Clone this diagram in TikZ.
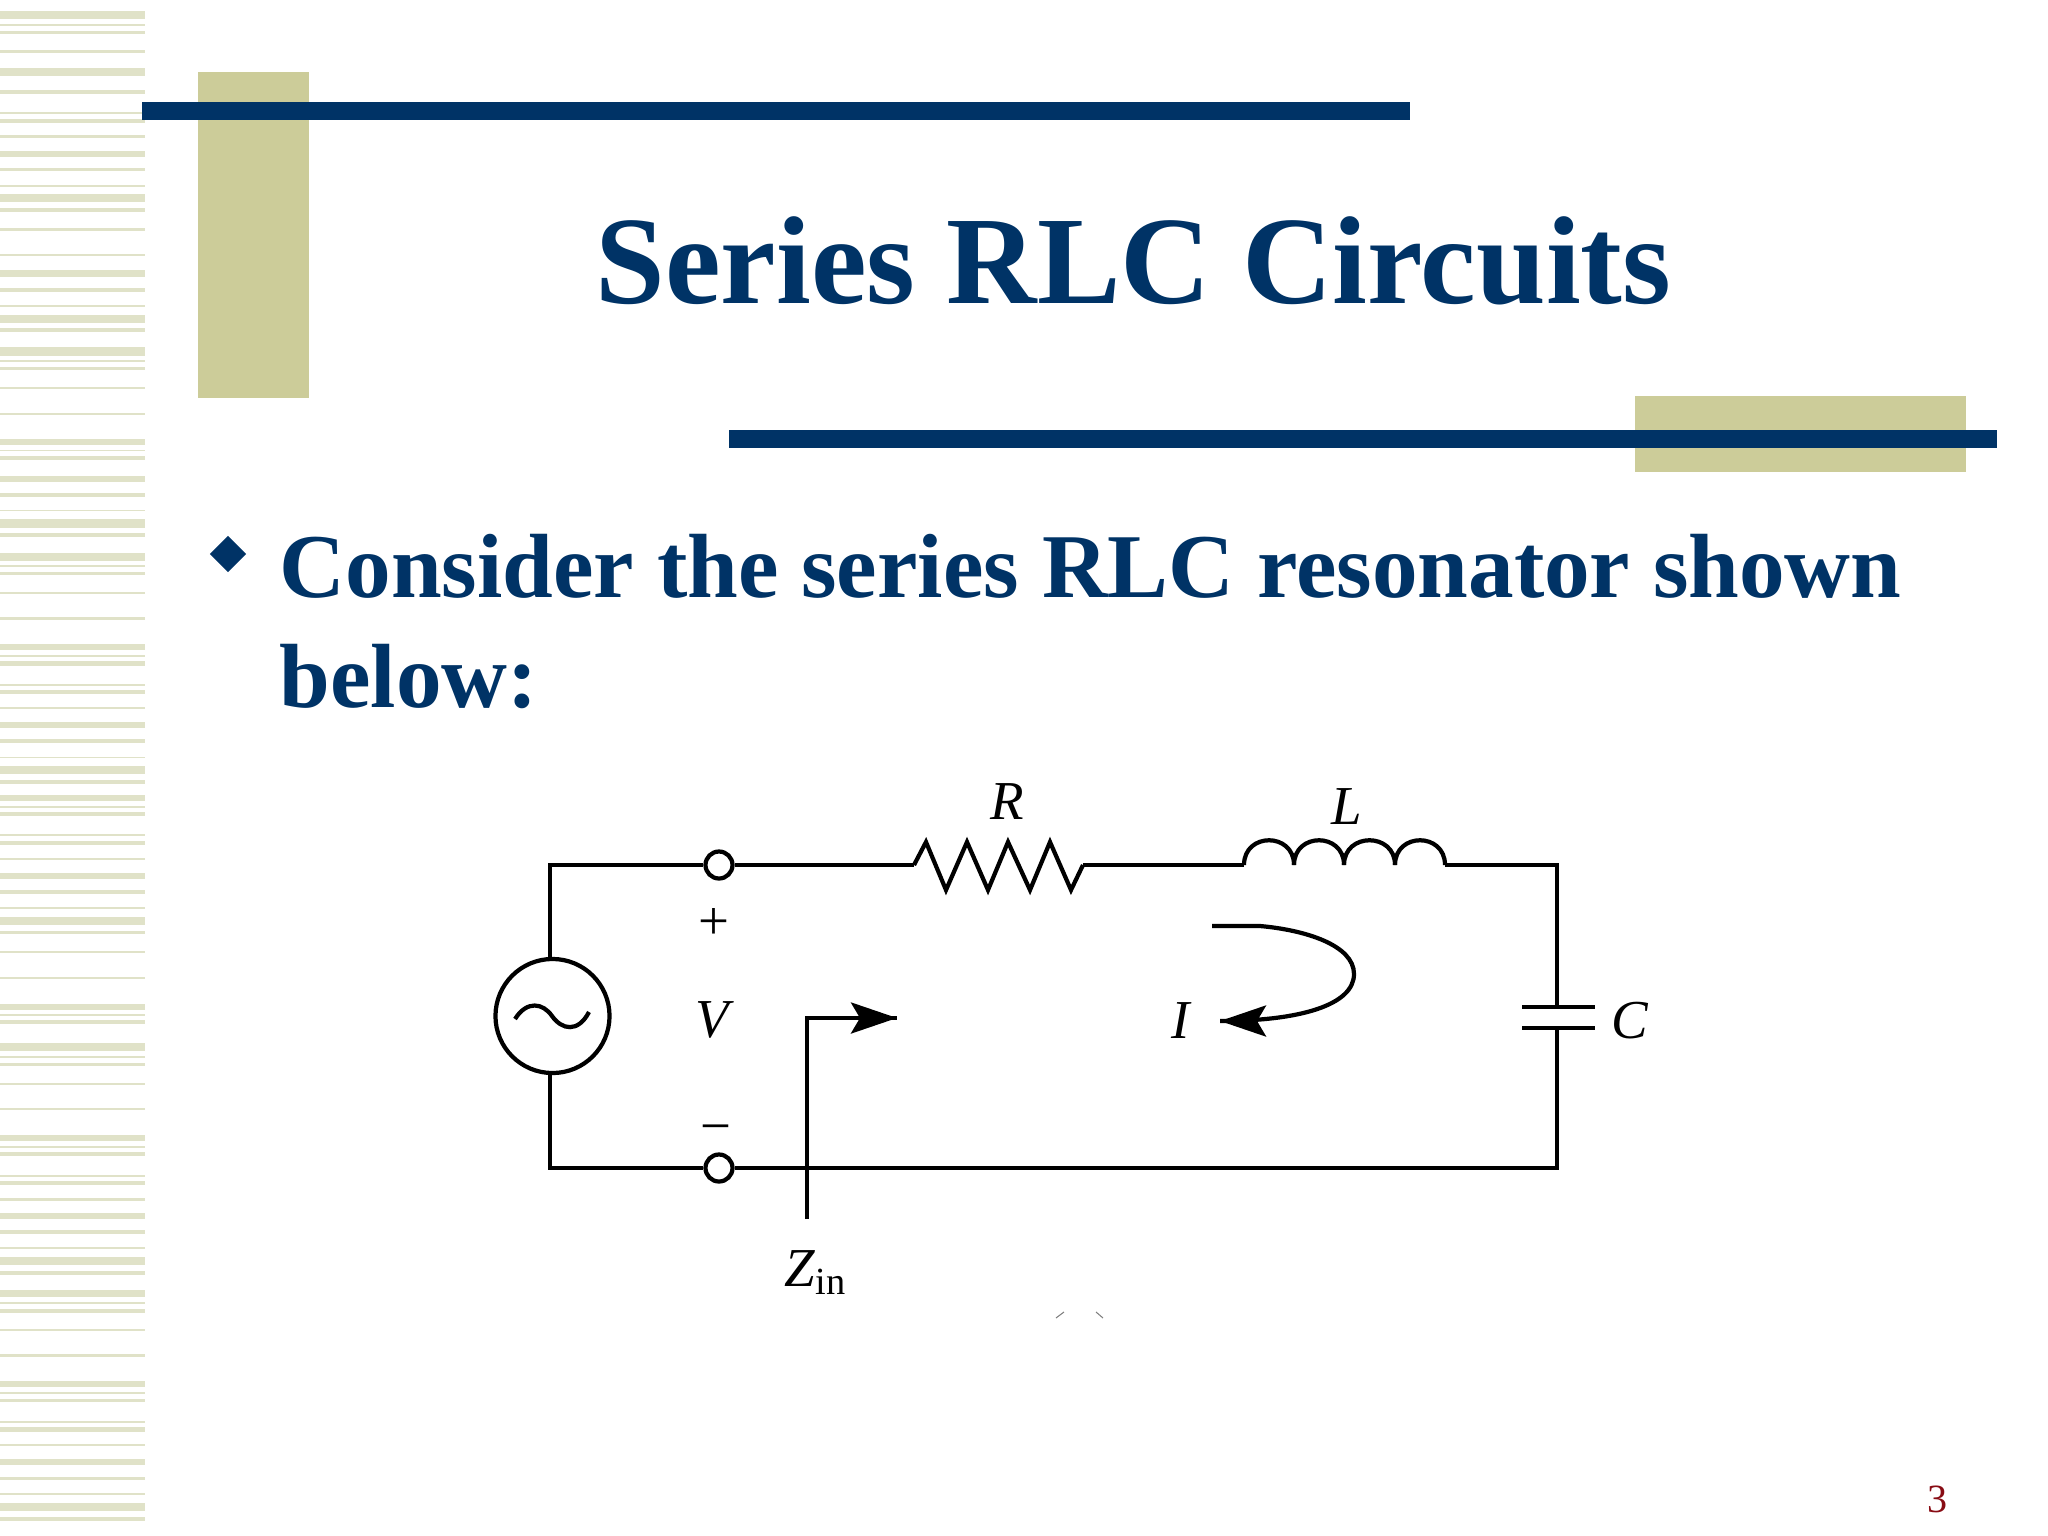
\documentclass[tikz,border=0pt]{standalone}
\usepackage{fontspec}
\setmainfont{Liberation Serif}
\usepackage{tikz}
\usetikzlibrary{arrows.meta,decorations.markings,shapes.geometric}
\definecolor{navy}{HTML}{003366}
\definecolor{khaki}{HTML}{CCCC99}
\definecolor{stripe}{HTML}{E0E2C8}
\definecolor{pagered}{HTML}{880C14}
\tikzstyle{slidetitle} = [inner sep=0pt, anchor=base west, text=navy, font=\fontsize{35.6}{40}\selectfont\bfseries]
\tikzstyle{slidebody} = [inner sep=0pt, anchor=base west, text=navy, font=\fontsize{25.93}{30}\selectfont\bfseries]
\tikzstyle{terminal} = [circle, draw=black, fill=white, line width=1.2pt, inner sep=0pt, minimum size=0.27cm]
\tikzstyle{source} = [circle, draw=black, line width=1.2pt, inner sep=0pt, minimum size=1.14cm]
\tikzstyle{symb} = [inner sep=0pt, font=\fontsize{15.6}{18}\selectfont\itshape]
\tikzstyle{sign} = [inner sep=0pt, font=\fontsize{15.6}{18}\selectfont]
\tikzstyle{wire} = [line width=1.2pt, line join=miter]

\begin{document}
\begin{tikzpicture}[x=0.01cm,y=-0.01cm]
    \tikzset{myptr/.style={decoration={markings,mark=at position 1 with %
    {\arrow{Stealth[length=0.46cm,width=0.31cm,inset=0.09cm]}}},postaction={decorate}}}
    \useasboundingbox (0,0) rectangle (2048,1536);

    % striped band on the left
    \foreach \ya/\yb in {11/19,24/26,31/34,50/53,68/76,90/94,112/114,119/123,135/138,151/157,168/171,185/187,194/202,208/212,228/231,254/256,270/277,288/292,305/307,315/323,328/332,347/356,360/362,367/370,387/389,413/415,439/445,450/451,456/460,476/482,493/497,510/511,519/528,533/537,553/561,565/567,572/575,592/594,617/620,644/650,655/657,661/666,684/686,690/694,707/709,722/728,739/743,757/758,766/774,780/784,795/801,806/808,812/816,834/836,841/845,858/860,873/879,890/894,907/909,917/925,931/934,951/953,977/979,1004/1010,1014/1016,1020/1024,1043/1051,1056/1058,1063/1066,1083/1085,1108/1110,1135/1141,1146/1148,1152/1156,1175/1177,1181/1185,1198/1201,1213/1219,1230/1234,1247/1249,1257/1265,1271/1275,1290/1297,1302/1304,1309/1313,1329/1331,1354/1357,1381/1387,1392/1394,1399/1402,1421/1423,1427/1432,1444/1446,1459/1465,1477/1480,1493/1495,1503/1511,1517/1521}
        \fill[stripe] (0,\ya) rectangle (145,\yb);

    % frame of the title
    \fill[khaki] (198,72) rectangle (309,398);
    \fill[khaki] (1635,396) rectangle (1966,472);
    \fill[navy] (142,102) rectangle (1410,120);
    \fill[navy] (729,430) rectangle (1997,448);

    \node (title) [slidetitle] at (595,303) {Series RLC Circuits};
    \node (bullet) [diamond, fill=navy, inner sep=0pt, minimum size=0.37cm] at (228,554) {};
    \node (line_one) [slidebody] at (279,597) {Consider the series RLC resonator shown};
    \node (line_two) [slidebody] at (279,707) {below:};
    \node (page_no) [inner sep=0pt, anchor=base, text=pagered, font=\fontsize{11.4}{13}\selectfont] at (1937,1512) {3};

    % circuit
    \node (src) [source] at (552.5,1016) {};
    \node (term_top) [terminal] at (719,865) {};
    \node (term_bot) [terminal] at (719,1168) {};
    \coordinate (res_in) at (914,865);
    \coordinate (res_out) at (1083,865);
    \coordinate (ind_in) at (1244,865);
    \coordinate (ind_out) at (1445,865);
    \coordinate (cap_a) at (1557,1007);
    \coordinate (cap_b) at (1557,1028);
    \coordinate (zin_foot) at (807,1219);
    \coordinate (zin_tip) at (897,1018);
    \coordinate (i_start) at (1212,926);
    \coordinate (i_tip) at (1220,1021);

    \node (lbl_r) [symb] at (1007,802) {R};
    \node (lbl_l) [symb] at (1347,807) {L};
    \node (lbl_c) [symb] at (1630,1021) {C};
    \node (lbl_i) [symb] at (1181,1021) {I};
    \node (lbl_v) [symb] at (712,1020) {V};
    \node (plus) [sign] at (714,924) {+};
    \node (minus) [sign] at (716,1135) {−};
    \node (lbl_zin) [inner sep=0pt, anchor=base, font=\fontsize{15.6}{18}\selectfont] at (816,1286) {\textit{Z}\textsubscript{in}};

    \draw[wire] ([xshift=-0.025cm]src.north) |- (term_top.west);
    \draw[wire] ([xshift=-0.025cm]src.south) |- (term_bot.west);
    \draw[wire] (term_top.east) -- (res_in);
    \draw[wire] (res_in) -- (926,842) -- (946,890) -- (967,842) -- (988,890) -- (1008,842) -- (1030,890) -- (1050,842) -- (1071,890) -- (res_out);
    \draw[wire] (res_out) -- (ind_in);
    \foreach \xa/\xb in {1244/1294,1294/1344,1344/1395,1395/1445}
        \draw[wire] (\xa,865) .. controls (\xa,832) and (\xb,832) .. (\xb,865);
    \draw[wire] (ind_out) -| (cap_a);
    \draw[wire] (cap_b) |- (term_bot.east);
    \draw[line width=1.4pt] (1522,1007) -- (1595,1007);
    \draw[line width=1.4pt] (1522,1028) -- (1595,1028);
    \draw[wire] (515,1019) .. controls (527,1000) and (543,1003) .. (552,1016) .. controls (562,1030) and (578,1033) .. (589,1012);

    \draw[wire, myptr] (zin_foot) |- (zin_tip);
    \draw[wire, myptr] (i_start) -- (1260,926) .. controls (1305,930) and (1354,945) .. (1354,974) .. controls (1354,1005) and (1300,1021) .. (i_tip);

    % two specks under the circuit
    \draw[gray, line width=0.3pt] (1056,1318) -- (1064,1312);
    \draw[gray, line width=0.3pt] (1096,1312) -- (1103,1318);
\end{tikzpicture}
\end{document}
